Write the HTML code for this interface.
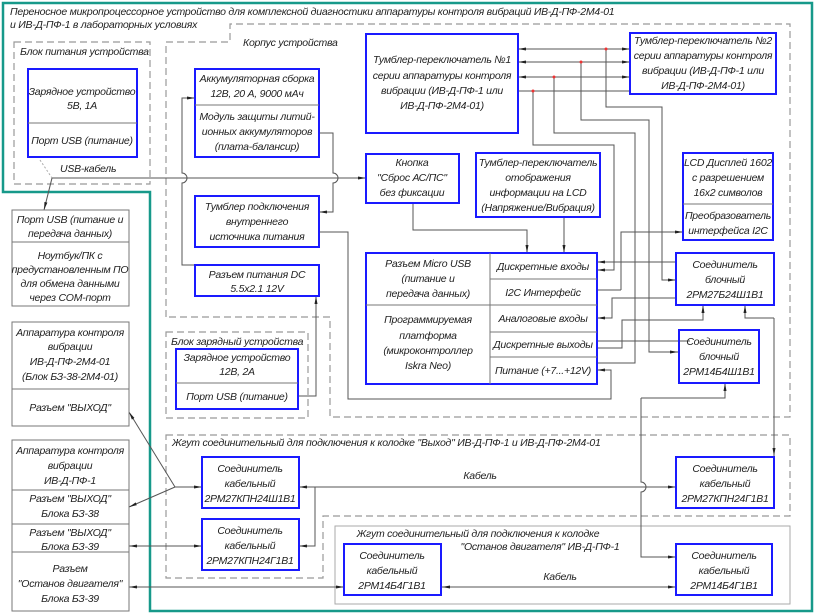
<!DOCTYPE html>
<html><head><meta charset="utf-8"><style>
html,body{margin:0;padding:0;background:#fff}
svg{display:block}
text{font-family:"Liberation Sans",sans-serif;font-style:italic;font-size:10.5px;letter-spacing:-0.25px;fill:#222}
.b{fill:none;stroke:#1a1aff;stroke-width:2}
.g{fill:none;stroke:#777;stroke-width:1}
.d{fill:none;stroke:#999;stroke-width:1.2;stroke-dasharray:7,4}
.w{fill:none;stroke:#555;stroke-width:1}
</style></head><body>
<svg width="817" height="616" viewBox="0 0 817 616" xmlns="http://www.w3.org/2000/svg">
<defs><marker id="a" markerWidth="8" markerHeight="6" refX="8" refY="3" orient="auto" markerUnits="userSpaceOnUse"><path d="M0,1.5 L8,3 L0,4.5Z" fill="#222"/></marker>
<marker id="s" markerWidth="8" markerHeight="6" refX="0" refY="3" orient="auto" markerUnits="userSpaceOnUse"><path d="M8,1.5 L0,3 L8,4.5Z" fill="#222"/></marker></defs>
<path d="M3,3 H812 V611 H150 V192 H3 Z" fill="none" stroke="#17998a" stroke-width="2.5"/>
<text x="10" y="15">Переносное микропроцессорное устройство для комплексной диагностики аппаратуры контроля вибраций ИВ-Д-ПФ-2М4-01</text>
<text x="10" y="28">и ИВ-Д-ПФ-1 в лабораторных условиях</text>
<rect class="d" x="14" y="42" width="136" height="142"/>
<text x="20" y="55">Блок питания устройства</text>
<path class="d" d="M166,317 V42 H230 V24 H790 V417 H330 V317 Z"/>
<text x="243" y="46">Корпус устройства</text>
<rect class="d" x="166" y="332" width="142" height="86"/>
<text x="171" y="345">Блок зарядный устройства</text>
<path class="d" d="M166,435 H790 V516 H323 V578 H166 Z"/>
<text x="172" y="446">Жгут соединительный для подключения к колодке "Выход" ИВ-Д-ПФ-1 и ИВ-Д-ПФ-2М4-01</text>
<rect x="335" y="526" width="455" height="78" fill="none" stroke="#aaa"/>
<text x="478" y="537" text-anchor="middle">Жгут соединительный для подключения к колодке</text>
<text x="540" y="550" text-anchor="middle">"Останов двигателя" ИВ-Д-ПФ-1</text>
<g class="w">
<path d="M40,160 L52,178" stroke-dasharray="2,2" stroke="#aaa"/>
<path d="M52,178 H366" marker-end="url(#a)"/>
<path d="M52,178 L44,210" marker-end="url(#a)"/>
<path d="M195,98 H182 V173 a5,5 0 0 1 0,10 V265 H195" marker-start="url(#s)"/>
<path d="M319,133 H333 V173 a5,5 0 0 1 0,10 V212 H319" marker-end="url(#a)"/>
<path d="M319,232 H348 V399 H611 V370 H597" marker-end="url(#a)"/>
<path d="M298,396 H316 V296" marker-end="url(#a)"/>
<path d="M413,203 V230 H527 V253" marker-end="url(#a)"/>
<path d="M564,217 V253" marker-end="url(#a)"/>
<path d="M518,49 H630" marker-start="url(#s)" marker-end="url(#a)"/>
<path d="M518,62 H630" marker-start="url(#s)" marker-end="url(#a)"/>
<path d="M518,77 H630" marker-start="url(#s)" marker-end="url(#a)"/>
<path d="M518,91 H630"/>
<path d="M606,49 V107 H662 V280 H676" marker-end="url(#a)"/>
<path d="M581,62 V120 H649 V352 H678" marker-end="url(#a)"/>
<path d="M554,77 V133 H635 V363 H597"/>
<path d="M533,91 V145 H614 V270 H597" marker-end="url(#a)"/>
<path d="M621,290 H597 M621,290 V232 H683" marker-end="url(#a)"/>
<path d="M676,262 H597" marker-end="url(#a)"/>
<path d="M676,298 H612 V318 H597" marker-end="url(#a)"/>
<path d="M597,341 H690 M597,348 H622 V320 H703 V305" marker-end="url(#a)"/>
<path d="M774,318 H745 V305" marker-end="url(#a)"/>
<path d="M774,318 V456" marker-end="url(#a)"/>
<path d="M641,398 H725 V383" marker-end="url(#a)"/>
<path d="M641,398 V482 a5,5 0 0 1 0,10 V557 H676" marker-end="url(#a)"/>
<path d="M299,487 H676" marker-start="url(#s)" marker-end="url(#a)"/>
<path d="M299,546 H315 V487" marker-start="url(#s)"/>
<path d="M175,487 H202" marker-end="url(#a)"/>
<path d="M175,487 L129,412" marker-end="url(#a)"/>
<path d="M175,487 L129,507" marker-end="url(#a)"/>
<path d="M129,546 H202" marker-start="url(#s)" marker-end="url(#a)"/>
<path d="M129,587 H344" marker-start="url(#s)" marker-end="url(#a)"/>
<path d="M442,587 H676" marker-start="url(#s)" marker-end="url(#a)"/>
</g>
<g fill="#e33"><circle cx="606" cy="49" r="1.5"/><circle cx="581" cy="62" r="1.5"/><circle cx="554" cy="77" r="1.5"/><circle cx="533" cy="91" r="1.5"/></g>
<text x="60" y="172">USB-кабель</text>
<text x="480" y="479" text-anchor="middle">Кабель</text>
<text x="560" y="580" text-anchor="middle">Кабель</text>
<g fill="#fff">
<rect class="b" x="28" y="69" width="109" height="88"/><line class="g" x1="28" y1="123" x2="137" y2="123"/>
<rect class="b" x="195" y="69" width="124" height="88"/><line class="g" x1="195" y1="105" x2="319" y2="105"/>
<rect class="b" x="195" y="196" width="124" height="51"/>
<rect class="b" x="195" y="265" width="124" height="31"/>
<rect class="b" x="366" y="34" width="152" height="99"/>
<rect class="b" x="630" y="33" width="146" height="61"/>
<rect class="b" x="366" y="154" width="93" height="49"/>
<rect class="b" x="476" y="153" width="124" height="64"/>
<rect class="b" x="683" y="153" width="90" height="87"/><line class="g" x1="683" y1="204" x2="773" y2="204"/>
<rect class="b" x="366" y="253" width="231" height="131"/>
<path class="g" d="M490,253 V384 M366,305 H490 M490,279 H597 M490,305 H597 M490,332 H597 M490,357 H597"/>
<rect class="b" x="676" y="253" width="98" height="52"/>
<rect class="b" x="679" y="330" width="80" height="53"/>
<rect class="b" x="176" y="349" width="122" height="60"/><line class="g" x1="176" y1="383" x2="298" y2="383"/>
<rect class="b" x="202" y="457" width="97" height="51"/>
<rect class="b" x="202" y="519" width="97" height="51"/>
<rect class="b" x="676" y="457" width="98" height="51"/>
<rect class="b" x="344" y="544" width="97" height="51"/>
<rect class="b" x="676" y="544" width="96" height="51"/>
<rect class="g" x="12" y="210" width="117" height="96"/><line class="g" x1="12" y1="242" x2="129" y2="242"/>
<rect class="g" x="12" y="322" width="117" height="104"/><line class="g" x1="12" y1="389" x2="129" y2="389"/>
<rect class="g" x="12" y="440" width="117" height="171"/>
<path class="g" d="M12,490 H129 M12,524 H129 M12,552 H129"/>
</g>
<g text-anchor="middle">
<text x="82" y="95">Зарядное устройство</text><text x="82" y="109">5В, 1А</text>
<text x="82" y="144">Порт USB (питание)</text>
<text x="257" y="82">Аккумуляторная сборка</text><text x="257" y="97">12В, 20 А, 9000 мАч</text>
<text x="257" y="120">Модуль защиты литий-</text><text x="257" y="135">ионных аккумуляторов</text><text x="257" y="150">(плата-балансир)</text>
<text x="257" y="210">Тумблер подключения</text><text x="257" y="225">внутреннего</text><text x="257" y="240">источника питания</text>
<text x="257" y="278">Разъем питания DC</text><text x="257" y="292">5.5x2.1 12V</text>
<text x="442" y="63">Тумблер-переключатель №1</text><text x="442" y="79">серии аппаратуры контроля</text><text x="442" y="94">вибрации (ИВ-Д-ПФ-1 или</text><text x="442" y="109">ИВ-Д-ПФ-2М4-01)</text>
<text x="703" y="44">Тумблер-переключатель №2</text><text x="703" y="59">серии аппаратуры контроля</text><text x="703" y="74">вибрации (ИВ-Д-ПФ-1 или</text><text x="703" y="89">ИВ-Д-ПФ-2М4-01)</text>
<text x="412" y="166">Кнопка</text><text x="412" y="181">"Сброс АС/ПС"</text><text x="412" y="196">без фиксации</text>
<text x="538" y="166">Тумблер-переключатель</text><text x="538" y="181">отображения</text><text x="538" y="196">информации на LCD</text><text x="538" y="211">(Напряжение/Вибрация)</text>
<text x="728" y="166">LCD Дисплей 1602</text><text x="728" y="181">с разрешением</text><text x="728" y="196">16x2 символов</text>
<text x="728" y="219">Преобразователь</text><text x="728" y="234">интерфейса I2C</text>
<text x="428" y="267">Разъем Micro USB</text><text x="428" y="282">(питание и</text><text x="428" y="297">передача данных)</text>
<text x="428" y="323">Программируемая</text><text x="428" y="339">платформа</text><text x="428" y="354">(микроконтроллер</text><text x="428" y="369">Iskra Neo)</text>
<text x="543" y="270">Дискретные входы</text><text x="543" y="296">I2C Интерфейс</text><text x="543" y="322">Аналоговые входы</text><text x="543" y="348">Дискретные выходы</text><text x="543" y="374">Питание (+7...+12V)</text>
<text x="725" y="268">Соединитель</text><text x="725" y="283">блочный</text><text x="725" y="298">2РМ27Б24Ш1В1</text>
<text x="719" y="345">Соединитель</text><text x="719" y="360">блочный</text><text x="719" y="375">2РМ14Б4Ш1В1</text>
<text x="237" y="361">Зарядное устройство</text><text x="237" y="375">12В, 2А</text><text x="237" y="400">Порт USB (питание)</text>
<text x="250" y="472">Соединитель</text><text x="250" y="487">кабельный</text><text x="250" y="502">2РМ27КПН24Ш1В1</text>
<text x="250" y="534">Соединитель</text><text x="250" y="549">кабельный</text><text x="250" y="564">2РМ27КПН24Г1В1</text>
<text x="725" y="472">Соединитель</text><text x="725" y="487">кабельный</text><text x="725" y="502">2РМ27КПН24Г1В1</text>
<text x="392" y="559">Соединитель</text><text x="392" y="574">кабельный</text><text x="392" y="589">2РМ14Б4Г1В1</text>
<text x="724" y="559">Соединитель</text><text x="724" y="574">кабельный</text><text x="724" y="589">2РМ14Б4Г1В1</text>
<text x="70" y="223">Порт USB (питание и</text><text x="70" y="237">передача данных)</text>
<text x="70" y="259">Ноутбук/ПК с</text><text x="70" y="273">предустановленным ПО</text><text x="70" y="287">для обмена данными</text><text x="70" y="301">через COM-порт</text>
<text x="70" y="336">Аппаратура контроля</text><text x="70" y="350">вибрации</text><text x="70" y="365">ИВ-Д-ПФ-2М4-01</text><text x="70" y="380">(Блок БЗ-38-2М4-01)</text>
<text x="70" y="411">Разъем "ВЫХОД"</text>
<text x="70" y="454">Аппаратура контроля</text><text x="70" y="469">вибрации</text><text x="70" y="484">ИВ-Д-ПФ-1</text>
<text x="70" y="502">Разъем "ВЫХОД"</text><text x="70" y="517">Блока БЗ-38</text>
<text x="70" y="536">Разъем "ВЫХОД"</text><text x="70" y="550">Блока БЗ-39</text>
<text x="70" y="572">Разъем</text><text x="70" y="587">"Останов двигателя"</text><text x="70" y="602">Блока БЗ-39</text>
</g>
</svg>
</body></html>
